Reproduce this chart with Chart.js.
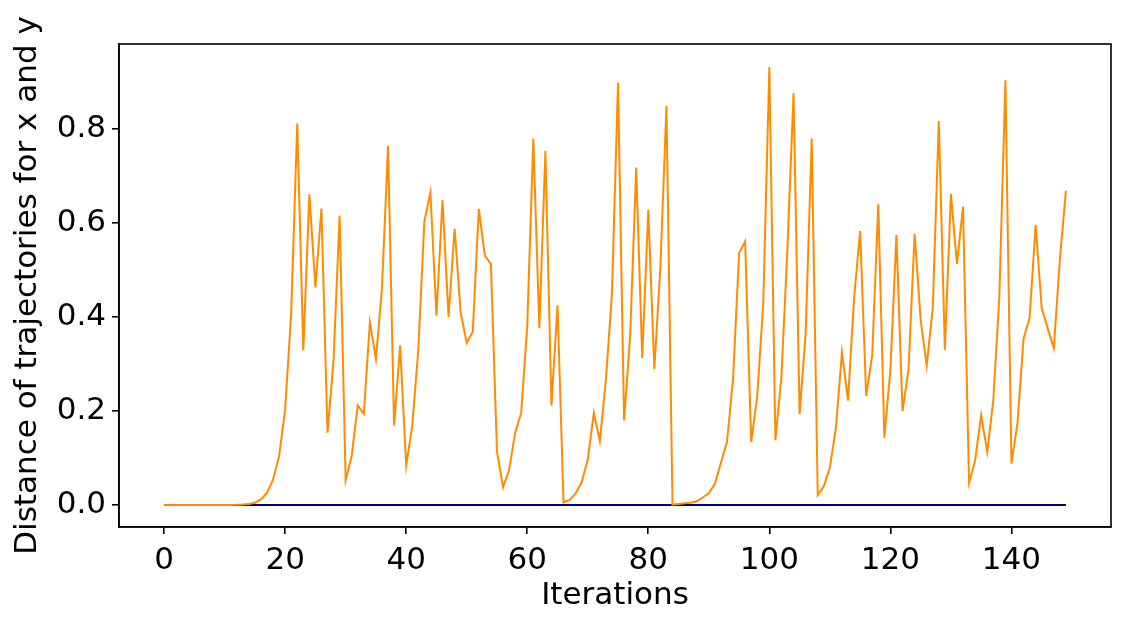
<!DOCTYPE html>
<html>
<head>
<meta charset="utf-8">
<script src="https://cdn.jsdelivr.net/npm/chart.js@4"></script>
<style>
  html, body { margin: 0; padding: 0; background: #fff; }
  #wrap { width: 1127px; height: 626px; }
</style>
</head>
<body>
<div id="wrap"><canvas id="ChartDistance" width="1127" height="626"></canvas></div>
<script>
// Data
const iterations = [
  0, 1, 2, 3, 4, 5, 6, 7, 8, 9, 10, 11, 12, 13, 14, 15, 16, 17, 18, 19,
  20, 21, 22, 23, 24, 25, 26, 27, 28, 29, 30, 31, 32, 33, 34, 35, 36, 37, 38, 39,
  40, 41, 42, 43, 44, 45, 46, 47, 48, 49, 50, 51, 52, 53, 54, 55, 56, 57, 58, 59,
  60, 61, 62, 63, 64, 65, 66, 67, 68, 69, 70, 71, 72, 73, 74, 75, 76, 77, 78, 79,
  80, 81, 82, 83, 84, 85, 86, 87, 88, 89, 90, 91, 92, 93, 94, 95, 96, 97, 98, 99,
  100, 101, 102, 103, 104, 105, 106, 107, 108, 109, 110, 111, 112, 113, 114, 115, 116, 117, 118, 119,
  120, 121, 122, 123, 124, 125, 126, 127, 128, 129, 130, 131, 132, 133, 134, 135, 136, 137, 138, 139,
  140, 141, 142, 143, 144, 145, 146, 147, 148, 149,
];

const distanceXY = [
  0, 0, 0, 0, 0, 0, 0, 0, 0, 0, 0.0001, 0.0002, 0.0004, 0.001, 0.002, 0.005, 0.012, 0.026, 0.054, 0.104,
  0.203, 0.408, 0.812, 0.329, 0.661, 0.463, 0.631, 0.154, 0.309, 0.616, 0.053, 0.105, 0.212, 0.194, 0.389, 0.311, 0.461, 0.764, 0.169, 0.34,
  0.084, 0.169, 0.33, 0.603, 0.665, 0.403, 0.649, 0.4, 0.588, 0.41, 0.345, 0.369, 0.63, 0.53, 0.513, 0.114, 0.038, 0.074, 0.154, 0.196,
  0.38, 0.78, 0.376, 0.754, 0.212, 0.425, 0.006, 0.011, 0.025, 0.049, 0.097, 0.196, 0.136, 0.267, 0.451, 0.899, 0.18, 0.359, 0.718, 0.313,
  0.628, 0.289, 0.507, 0.849, 0.001, 0.002, 0.004, 0.005, 0.008, 0.016, 0.025, 0.045, 0.09, 0.134, 0.267, 0.536, 0.561, 0.134, 0.231, 0.43,
  0.932, 0.138, 0.273, 0.55, 0.876, 0.194, 0.365, 0.78, 0.021, 0.04, 0.08, 0.164, 0.325, 0.222, 0.44, 0.583, 0.232, 0.32, 0.64, 0.143,
  0.288, 0.575, 0.2, 0.288, 0.577, 0.394, 0.297, 0.419, 0.817, 0.33, 0.662, 0.513, 0.635, 0.047, 0.095, 0.191, 0.113, 0.222, 0.442, 0.904,
  0.088, 0.175, 0.354, 0.398, 0.596, 0.419, 0.376, 0.334, 0.522, 0.669,
];

const distanceBase = [
  0, 0, 0, 0, 0, 0, 0, 0, 0, 0, 0, 0, 0, 0, 0, 0, 0, 0, 0, 0,
  0, 0, 0, 0, 0, 0, 0, 0, 0, 0, 0, 0, 0, 0, 0, 0, 0, 0, 0, 0,
  0, 0, 0, 0, 0, 0, 0, 0, 0, 0, 0, 0, 0, 0, 0, 0, 0, 0, 0, 0,
  0, 0, 0, 0, 0, 0, 0, 0, 0, 0, 0, 0, 0, 0, 0, 0, 0, 0, 0, 0,
  0, 0, 0, 0, 0, 0, 0, 0, 0, 0, 0, 0, 0, 0, 0, 0, 0, 0, 0, 0,
  0, 0, 0, 0, 0, 0, 0, 0, 0, 0, 0, 0, 0, 0, 0, 0, 0, 0, 0, 0,
  0, 0, 0, 0, 0, 0, 0, 0, 0, 0, 0, 0, 0, 0, 0, 0, 0, 0, 0, 0,
  0, 0, 0, 0, 0, 0, 0, 0, 0, 0,
];

const xTicks = [0, 20, 40, 60, 80, 100, 120, 140];
const yTicks = [0, 0.2, 0.4, 0.6, 0.8];
// End data

const FONT = { family: "'DejaVu Sans', sans-serif", size: 31, lineHeight: 1.2 };

// frame around plot area
const frame = {
  id: "frame",
  afterDatasetsDraw(chart) {
    const { ctx, chartArea } = chart;
    ctx.save();
    ctx.strokeStyle = "#000";
    ctx.lineWidth = 1.6;
    ctx.strokeRect(chartArea.left, chartArea.top, chartArea.right - chartArea.left, chartArea.bottom - chartArea.top);
    ctx.restore();
  },
};

const toPoints = (values) => values.map((v, i) => ({ x: iterations[i], y: v }));

new Chart(document.getElementById("ChartDistance"), {
  type: "line",
  data: {
    datasets: [
      {
        label: "x and y",
        data: toPoints(distanceXY),
        borderColor: "#ff8c00",
        borderWidth: 2,
        pointRadius: 0,
        tension: 0,
        fill: false,
      },
      {
        label: "base",
        data: toPoints(distanceBase),
        borderColor: "#000080",
        borderWidth: 2,
        pointRadius: 0,
        tension: 0,
        fill: false,
      },
    ],
  },
  options: {
    responsive: false,
    animation: false,
    layout: { padding: { top: 44, right: 16, left: 0, bottom: 0 } },
    plugins: { legend: { display: false }, tooltip: { enabled: false } },
    scales: {
      x: {
        type: "linear",
        min: -7.45,
        max: 156.45,
        afterBuildTicks: (scale) => {
          scale.ticks = xTicks.map((v) => ({ value: v }));
        },
        afterFit: (scale) => {
          scale.height = 99;
        },
        grid: { drawOnChartArea: false, drawTicks: true, tickLength: 7, color: "#000", lineWidth: 1.6 },
        border: { display: true, color: "#000", width: 1.6 },
        ticks: { color: "#000", font: FONT, padding: 8, maxRotation: 0 },
        title: { display: true, text: "Iterations", color: "#000", font: FONT, padding: { top: 0, bottom: 11 } },
      },
      y: {
        type: "linear",
        min: -0.0467,
        max: 0.981,
        afterBuildTicks: (scale) => {
          scale.ticks = yTicks.map((v) => ({ value: v }));
        },
        afterFit: (scale) => {
          scale.width = 119;
        },
        grid: { drawOnChartArea: false, drawTicks: true, tickLength: 7, color: "#000", lineWidth: 1.6 },
        border: { display: true, color: "#000", width: 1.6 },
        ticks: { color: "#000", font: FONT, padding: 6, callback: (v) => Number(v).toFixed(1) },
        title: {
          display: true,
          text: "Distance of trajectories for x and y",
          color: "#000",
          font: FONT,
          padding: { top: 9.5, bottom: 0 },
        },
      },
    },
  },
  plugins: [frame],
});
</script>
</body>
</html>
